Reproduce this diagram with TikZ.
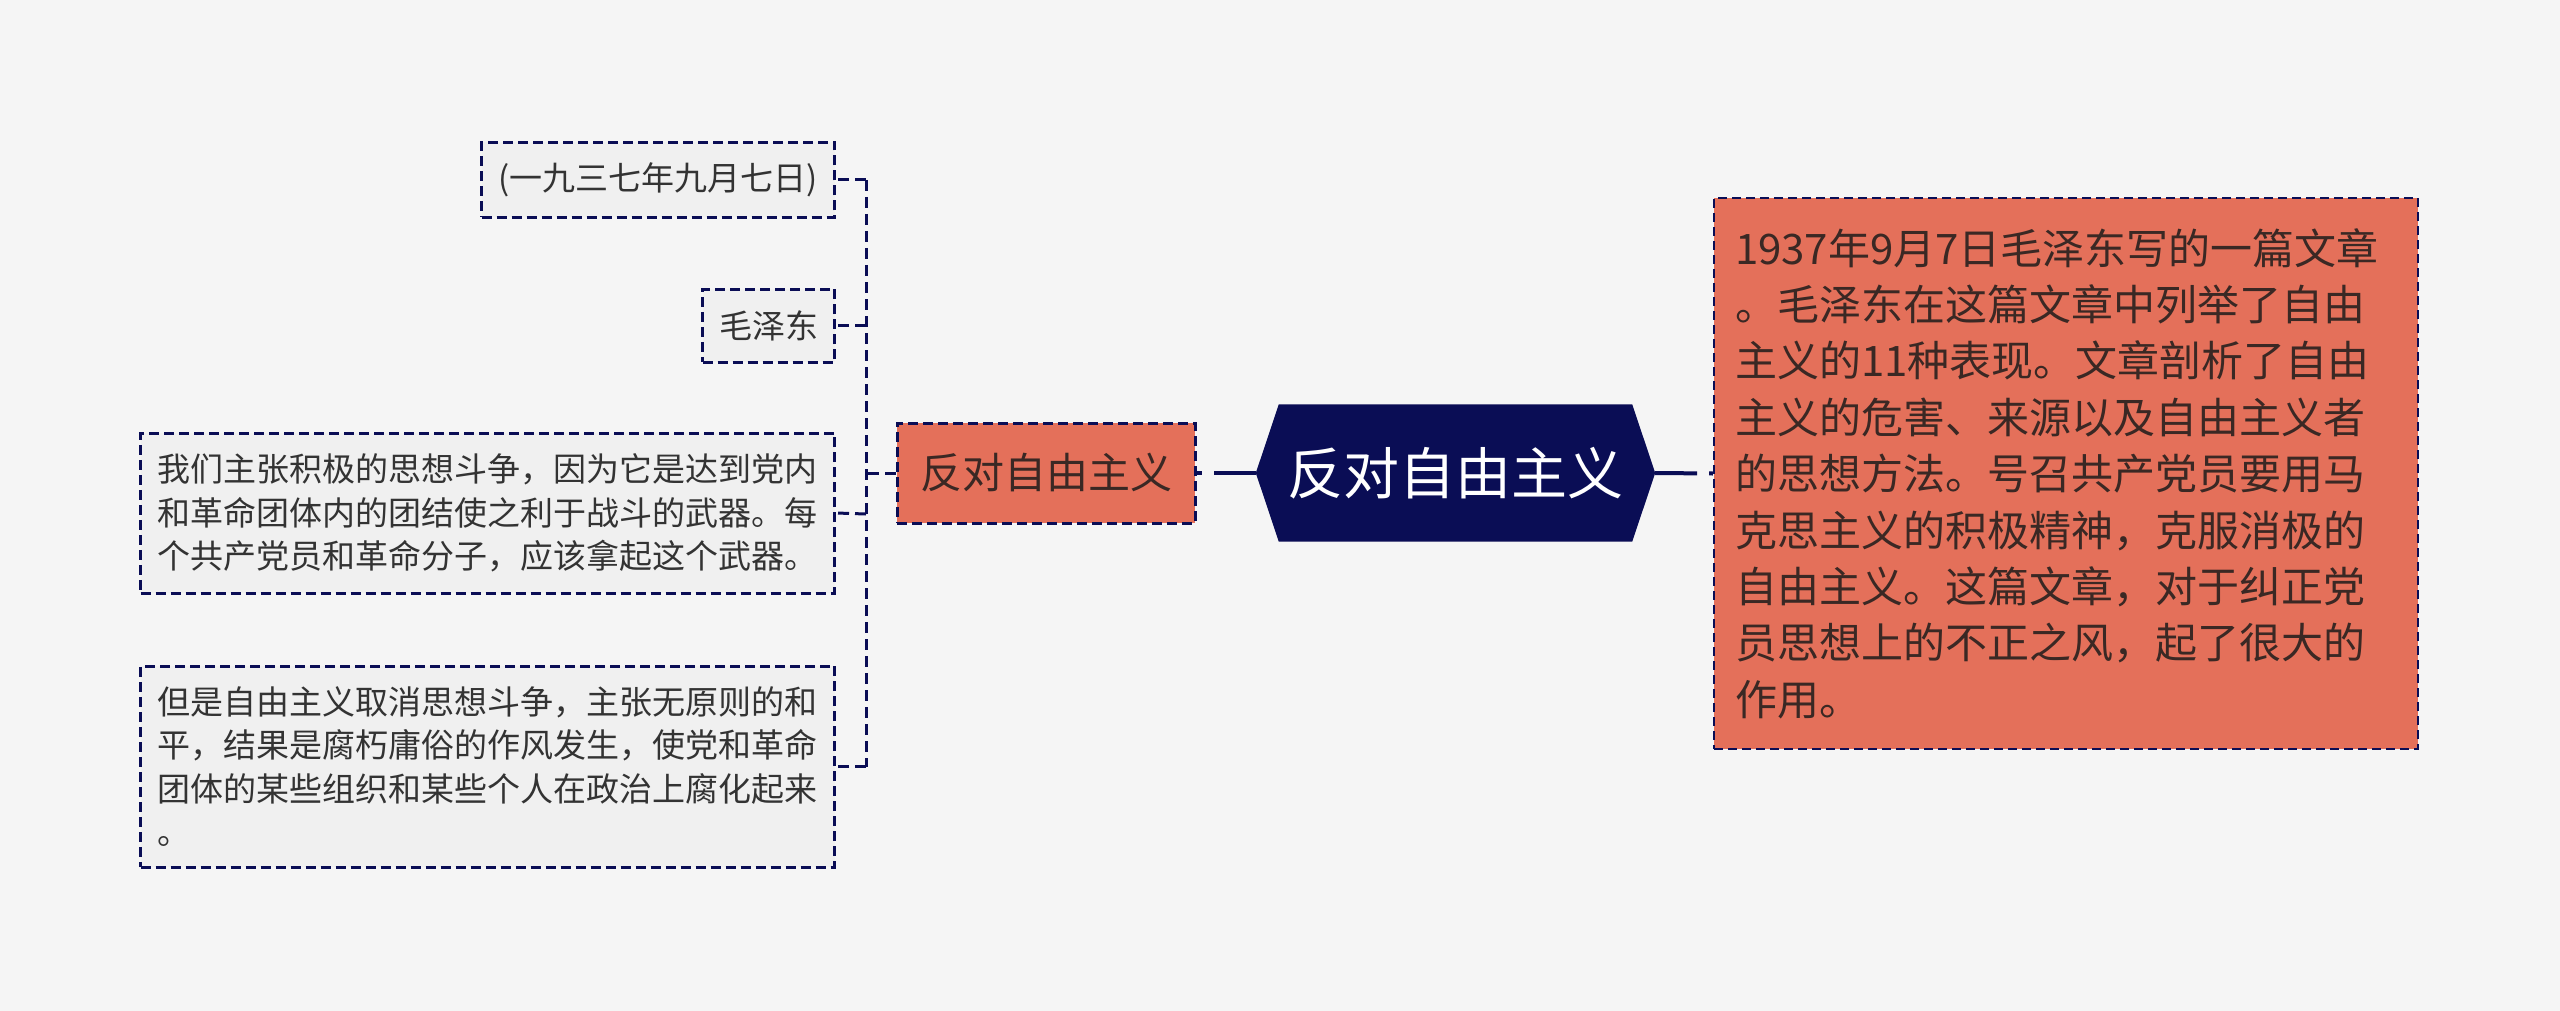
\documentclass[tikz,border=0pt]{standalone}
\usepackage{fontspec}
\setmainfont{Noto Sans CJK SC}
\usetikzlibrary{backgrounds}
\definecolor{bg}{HTML}{F5F5F5}
\definecolor{navy}{HTML}{0A0D55}
\definecolor{coral}{HTML}{E4705A}
\definecolor{leaffill}{HTML}{F0F0F0}
\definecolor{txt}{HTML}{333333}
\definecolor{coraltxt}{HTML}{3A2824}
\begin{document}
\begin{tikzpicture}[x=1pt,y=-1pt,
  leafbox/.style={draw=navy, line width=3pt, dash pattern=on 10pt off 5pt,
    fill=leaffill, text=txt, font=\fontsize{33pt}{43.5pt}\selectfont,
    align=left, inner sep=0pt, anchor=east},
  l1box/.style={draw=navy, line width=3pt, dash pattern=on 10pt off 5pt,
    fill=coral, text=coraltxt, font=\fontsize{42pt}{50pt}\selectfont,
    inner sep=0pt, minimum width=298pt, minimum height=100pt},
  descbox/.style={draw=navy, line width=2.5pt, dash pattern=on 9pt off 5pt,
    fill=coral, text=coraltxt, font=\fontsize{42pt}{56.4pt}\selectfont,
    align=left, text width=662pt, inner xsep=21pt, inner ysep=0pt,
    minimum width=704pt, minimum height=551pt},
  rootnode/.style={inner sep=0pt, text=white, font=\fontsize{56pt}{60pt}\selectfont,
    minimum width=353pt, minimum height=137pt},
  conn/.style={draw=navy, line width=3pt, dash pattern=on 11pt off 6pt},
  rootconn/.style={draw=navy, line width=4pt, dash pattern=on 42pt off 12pt on 30pt off 0pt}]
\useasboundingbox (0,0) rectangle (2560,1011);

% root
\node[rootnode] (root) at (1455.5,473) {反对自由主义};
\coordinate (rootL) at ([xshift=-23pt]root.west);
\coordinate (rootR) at ([xshift=23pt]root.east);
\begin{pgfonlayer}{background}
  \fill[bg] (0,0) rectangle (2560,1011);
  \fill[navy] (root.north west) -- (root.north east) -- (rootR) -- (root.south east)
    -- (root.south west) -- (rootL) -- cycle;
\end{pgfonlayer}

% level 1 left
\node[l1box] (l1) at (1046,473) {反对自由主义};

% right description
\node[descbox] (desc) at (2066,473.5) {1937年9月7日毛泽东写的一篇文章\\
。毛泽东在这篇文章中列举了自由\\
主义的11种表现。文章剖析了自由\\
主义的危害、来源以及自由主义者\\
的思想方法。号召共产党员要用马\\
克思主义的积极精神，克服消极的\\
自由主义。这篇文章，对于纠正党\\
员思想上的不正之风，起了很大的\\
作用。};

% leaves
\node[leafbox, minimum width=353pt, minimum height=75pt] (la) at (836,180) {(一九三七年九月七日)};
\node[leafbox, minimum width=132pt, minimum height=73pt] (lb) at (836,325.5) {毛泽东};
\node[leafbox, minimum width=694pt, minimum height=160pt] (lc) at (836,513) {我们主张积极的思想斗争，因为它是达到党内\\
和革命团体内的团结使之利于战斗的武器。每\\
个共产党员和革命分子，应该拿起这个武器。};
\node[leafbox, minimum width=694pt, minimum height=201pt] (ld) at (836,766.5) {但是自由主义取消思想斗争，主张无原则的和\\
平，结果是腐朽庸俗的作风发生，使党和革命\\
团体的某些组织和某些个人在政治上腐化起来\\
。};

% connectors
\coordinate (jL) at (866,473);
\coordinate (ja) at (866,180);
\coordinate (jb) at (866,325.5);
\coordinate (jc) at (866,514);
\coordinate (jd) at (866,766.5);

\draw[rootconn] (rootL) -- (l1.east);
\draw[rootconn] (rootR) -- (desc.west);
\draw[conn] (l1.west) -- (jL);
\draw[conn] (ja) -- (jd);
\draw[conn] (ja) -- (la.east);
\draw[conn] (jb) -- (lb.east);
\draw[conn] (jc) -- (lc.east);
\draw[conn] (jd) -- (ld.east);
\end{tikzpicture}
\end{document}
